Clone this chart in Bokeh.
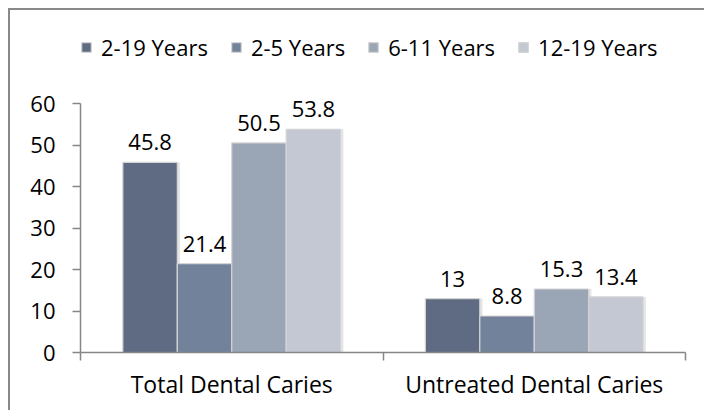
from bokeh.plotting import figure
from bokeh.models import (ColumnDataSource, FactorRange, Range1d, LinearAxis, CategoricalAxis,
                          FixedTicker, Legend, LegendItem)
from bokeh.transform import dodge
from bokeh.core.properties import value
from bokeh.embed import file_html
from bokeh.resources import INLINE

categories = ["Total Dental Caries", "Untreated Dental Caries"]
series_names = ["2-19 Years", "2-5 Years", "6-11 Years", "12-19 Years"]
v_2_19 = [45.8, 13]
v_2_5 = [21.4, 8.8]
v_6_11 = [50.5, 15.3]
v_12_19 = [53.8, 13.4]
y_ticks = [0, 10, 20, 30, 40, 50, 60]

colors = ["#5f6b82", "#72829b", "#9aa5b6", "#c4c8d2"]
series_values = [v_2_19, v_2_5, v_6_11, v_12_19]
cols = ["s0", "s1", "s2", "s3"]

data = {"cat": categories}
for c, vals in zip(cols, series_values):
    data[c] = vals
    data[c + "_lbl"] = ["{:g}".format(v) for v in vals]
src = ColumnDataSource(data)

FONT = "Open Sans"
FS = "22px"
FS_CAT = "23px"

p = figure(width=696, height=402, output_backend="svg", toolbar_location=None,
           x_range=FactorRange(*categories, range_padding=0), y_range=Range1d(0, 80),
           x_axis_location=None, min_border_left=70, min_border_right=21,
           min_border_top=10, min_border_bottom=60)
p.styles = {"border-left": "2px solid #898989", "border-top": "2px solid #898989",
            "margin-left": "8px", "margin-top": "8px"}
p.outline_line_color = None
p.grid.visible = False
p.background_fill_color = "white"
p.border_fill_color = "white"

bw = 0.18
offsets = [-1.5 * bw, -0.5 * bw, 0.5 * bw, 1.5 * bw]

# soft shadows behind the bars
for c, off in zip(cols, offsets):
    p.vbar(x=dodge("cat", off + 0.009, range=p.x_range), top=c, width=bw, source=src,
           fill_color="#000000", fill_alpha=0.10, line_color=None)

items = []
for c, name, col, off in zip(cols, series_names, colors, offsets):
    r = p.vbar(x=dodge("cat", off, range=p.x_range), top=c, width=bw, source=src,
               fill_color=col, line_color="#d4d4d4", line_width=1.2)
    p.text(x=dodge("cat", off, range=p.x_range), y=c, text=c + "_lbl", source=src,
           text_align="center", text_baseline="alphabetic", y_offset=-20,
           text_font=value(FONT), text_font_size=FS, text_color="#000000")
    items.append(LegendItem(label=name, renderers=[r]))

legend = Legend(items=items, location=(0, 290), orientation="horizontal",
                padding=0, margin=0, spacing=22, glyph_width=12, glyph_height=12,
                label_standoff=9, border_line_color=None, background_fill_alpha=0,
                label_text_font=FONT, label_text_font_size=FS, label_text_color="#000000")
p.add_layout(legend, "center")

# y axis
ya = p.yaxis[0]
ya.ticker = FixedTicker(ticks=y_ticks)
ya.bounds = (y_ticks[0], y_ticks[-1])
ya.axis_line_color = "#868686"
ya.axis_line_width = 1.5
ya.major_tick_line_color = "#868686"
ya.major_tick_line_width = 1.5
ya.major_tick_in = 0
ya.major_tick_out = 8
ya.minor_tick_line_color = None
ya.major_label_standoff = 17
ya.major_label_text_font = FONT
ya.major_label_text_font_size = FS
ya.major_label_text_color = "#000000"

# x axis: boundary ticks between categories (synthetic coordinates of the factor range)
edge_ticks = list(range(len(categories) + 1))
tick_axis = LinearAxis(ticker=FixedTicker(ticks=edge_ticks))
tick_axis.axis_line_color = "#868686"
tick_axis.axis_line_width = 1.5
tick_axis.major_tick_line_color = "#868686"
tick_axis.major_tick_line_width = 1.5
tick_axis.major_tick_in = 0
tick_axis.major_tick_out = 8
tick_axis.minor_tick_line_color = None
tick_axis.major_label_overrides = {t: "" for t in edge_ticks}
tick_axis.major_label_standoff = 0
tick_axis.major_label_text_font_size = "1px"
p.add_layout(tick_axis, "below")

cat_axis = CategoricalAxis()
cat_axis.axis_line_color = None
cat_axis.major_tick_line_color = None
cat_axis.major_tick_out = 0
cat_axis.major_tick_in = 0
cat_axis.major_label_standoff = 7
cat_axis.major_label_text_font = FONT
cat_axis.major_label_text_font_size = FS_CAT
cat_axis.major_label_text_color = "#000000"
p.add_layout(cat_axis, "below")

open("out.html", "w").write(file_html(p, INLINE))
